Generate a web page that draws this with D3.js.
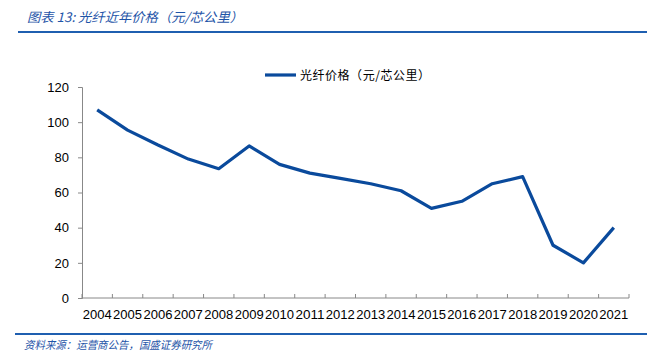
<!DOCTYPE html>
<html><head><meta charset="utf-8">
<script src="https://cdn.jsdelivr.net/npm/d3@7"></script>
<style>body{margin:0;background:#fff}svg{display:block}</style>
</head><body>
<svg id="c" width="647" height="357"></svg>
<script>
const years = ["2004","2005","2006","2007","2008","2009","2010","2011","2012","2013","2014","2015","2016","2017","2018","2019","2020","2021"];
const prices = [107,95.5,87,79,73.5,86.5,76,71,68,65,61,51,55,65,69,30,20,40];
const yTicks = [0,20,40,60,80,100,120];
const seriesName = "光纤价格（元/芯公里）";
const titleText = "图表 13:  光纤近年价格（元/芯公里）";
const sourceText = "资料来源：运营商公告，国盛证券研究所";

const svg = d3.select("#c");
const font = "'Liberation Sans', Arial, 'Noto Sans CJK SC', sans-serif";
const cjk = "'Noto Sans CJK SC', sans-serif";
const blue = "#0a4a9c";
const L = 82, R = 629, T = 87, B = 298;

const x = d3.scaleBand().domain(years).range([L, R]);
const y = d3.scaleLinear().domain([0, 120]).range([B, T]);

// header
svg.append("text").attr("x", 27).attr("y", 22).attr("font-family", cjk).attr("font-size", 13)
  .attr("font-style", "italic").attr("fill", "#1f55a8")
  .attr("textLength", 216).attr("lengthAdjust", "spacingAndGlyphs").text(titleText);
svg.append("line").attr("x1", 18).attr("x2", 647).attr("y1", 32).attr("y2", 32)
  .attr("stroke", "#1f5fb0").attr("stroke-width", 2);

// footer
svg.append("line").attr("x1", 15).attr("x2", 647).attr("y1", 334).attr("y2", 334)
  .attr("stroke", "#1f5fb0").attr("stroke-width", 2);
svg.append("text").attr("x", 24).attr("y", 349).attr("font-family", cjk).attr("font-size", 11)
  .attr("font-style", "italic").attr("fill", "#1f55a8")
  .attr("textLength", 188).attr("lengthAdjust", "spacingAndGlyphs").text(sourceText);

// axes
const yAxis = svg.append("g").attr("transform", `translate(${L},0)`)
  .call(d3.axisLeft(y).tickValues(yTicks).tickSize(4).tickPadding(9));
yAxis.select(".domain").attr("stroke", "#888");
yAxis.selectAll(".tick line").attr("stroke", "#888");
yAxis.selectAll("text").attr("font-family", font).attr("font-size", 13).attr("fill", "#000");

const xAxis = svg.append("g").attr("transform", `translate(0,${B})`)
  .call(d3.axisBottom(x).tickSize(0).tickPadding(12));
xAxis.select(".domain").attr("stroke", "#888").attr("d", `M${L},0H${R}`);
xAxis.selectAll("text").attr("font-family", font).attr("font-size", 12.5).attr("fill", "#000")
  .attr("textLength", 29).attr("lengthAdjust", "spacingAndGlyphs");
// category boundary ticks
const bounds = years.map(d => x(d)).concat([R]);
svg.append("g").selectAll("line").data(bounds).join("line")
  .attr("x1", d => d).attr("x2", d => d).attr("y1", B).attr("y2", B - 4)
  .attr("stroke", "#888");

// line
const line = d3.line().x((d, i) => x(years[i]) + x.bandwidth() / 2).y(d => y(d));
svg.append("path").datum(prices).attr("d", line).attr("fill", "none")
  .attr("stroke", blue).attr("stroke-width", 3.2).attr("stroke-linejoin", "round");

// legend
svg.append("line").attr("x1", 265).attr("x2", 296).attr("y1", 75).attr("y2", 75)
  .attr("stroke", blue).attr("stroke-width", 3.2);
svg.append("text").attr("x", 300).attr("y", 80).attr("font-family", cjk).attr("font-size", 12)
  .attr("fill", "#000").attr("textLength", 130).attr("lengthAdjust", "spacing").text(seriesName);
</script>
</body></html>
